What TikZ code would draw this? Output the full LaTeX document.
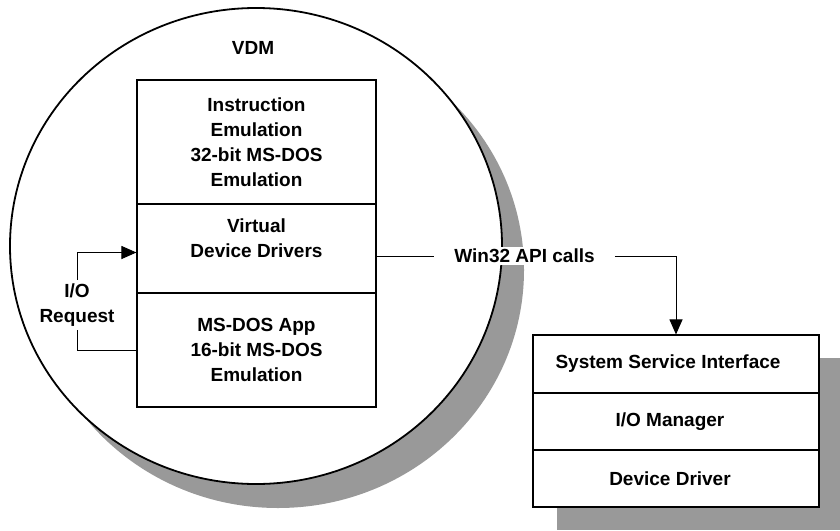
\documentclass[tikz,border=0pt]{standalone}
\usepackage{fontspec}
\setmainfont{Liberation Sans}
\usetikzlibrary{arrows.meta}
\definecolor{shadowgray}{gray}{0.6}
\begin{document}
\begin{tikzpicture}[x = 1pt, y = -1pt]
		\tikzstyle{every node} = [font = \fontsize{19}{25}\selectfont\bfseries]
		\tikzstyle{layer} = [draw, fill = white, line width = 1.1pt, align = center, inner sep = 0pt]
		\tikzstyle{arr} = [line width = 1pt, -{Triangle[length = 15pt, width = 13pt]}]
		\useasboundingbox (0,0) rectangle (840,530);

		% the VDM circle and its shadow
		\fill [shadowgray] (278,270) ellipse [x radius = 246pt, y radius = 238pt];
		\draw [fill = white, line width = 1.8pt] (256,246) ellipse [x radius = 246pt, y radius = 238pt];
		\node (vdm) at (253,48) {VDM};

		\node [layer, minimum width = 239pt, minimum height = 124pt] (instr) at (256.5,142) {Instruction\\Emulation\\32-bit MS-DOS\\Emulation};
		\node [layer, minimum width = 239pt, minimum height = 89pt] (vdd) at (256.5,248.5) {Virtual\\Device Drivers\\[-4pt]};
		\node [layer, minimum width = 239pt, minimum height = 114pt] (app) at (256.5,350) {MS-DOS App\\16-bit MS-DOS\\Emulation};

		% the executive and its shadow
		\fill [shadowgray] (557,358) rectangle (840,530);
		\node [layer, minimum width = 286pt, minimum height = 58pt] (ssi) at (676,364) {\hspace{-16pt}System Service Interface};
		\node [layer, minimum width = 286pt, minimum height = 57pt] (mgr) at (676,421.5) {\hspace{-12pt}I/O Manager};
		\node [layer, minimum width = 286pt, minimum height = 57pt] (drv) at (676,478.5) {\hspace{-12pt}Device Driver};

		\node [fill = white, inner xsep = 20pt, inner ysep = 2pt] (win) at (524.5,256) {Win32 API calls};
		\node [align = center, inner xsep = 0pt, inner ysep = 3.5pt] (io) at (77,305) {I/O\\Request};

		\draw [line width = 1pt] (app.west) -| (io.south); %app to request
		\draw [arr] (io.north) |- ([yshift = -4pt]vdd.west); %request to vdd
		\draw [line width = 1pt] (vdd.east |- win.west) -- (win.west); %vdd to label
		\draw [arr] (win.east) -| (ssi.north); %label to interface
	\end{tikzpicture}
\end{document}
